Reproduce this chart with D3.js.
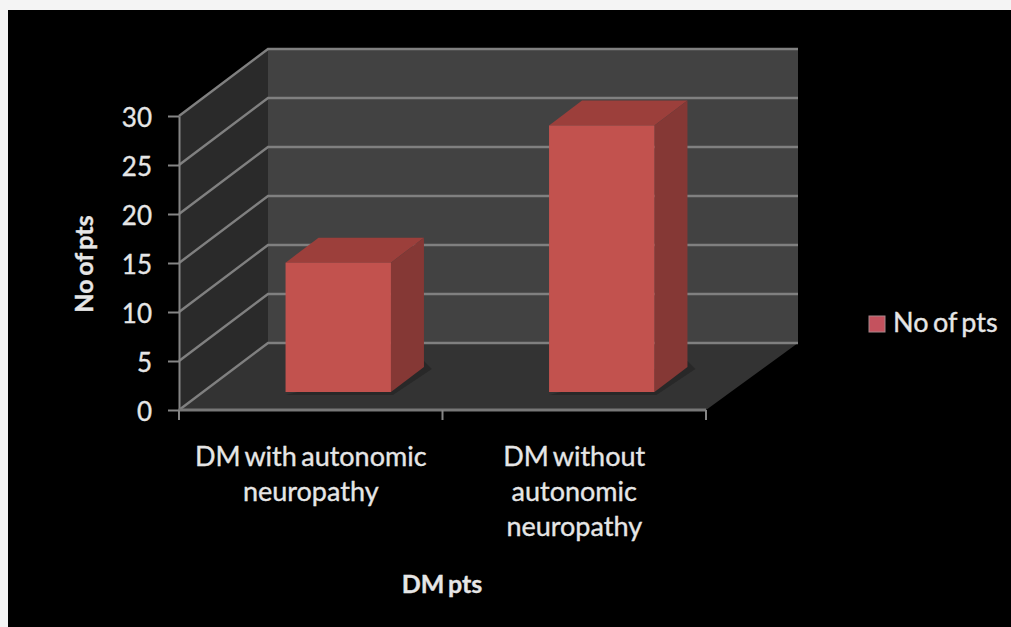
<!DOCTYPE html>
<html>
<head>
<meta charset="utf-8">
<script src="https://cdn.jsdelivr.net/npm/d3@7/dist/d3.min.js"></script>
<style>
  html, body { margin: 0; padding: 0; background: #000; overflow: hidden; }
  svg { display: block; }
  text { font-family: Lato, "Open Sans", sans-serif; fill: #e6e6e6; }
  .soft { stroke: #e6e6e6; stroke-width: 0.35px; word-spacing: -2.5px; }
</style>
</head>
<body>
<script>
// Patient counts by group
const categories = ["DM with autonomic neuropathy", "DM without autonomic neuropathy"];
const categoryLines = [["DM with autonomic", "neuropathy"], ["DM without", "autonomic", "neuropathy"]];
const values = [13.2, 27.2];
const yTicks = [0, 5, 10, 15, 20, 25, 30];
const seriesName = "No of pts";
const xTitle = "DM pts";
const yTitle = "No of pts";

const W = 1011, H = 627;
const depthX = 89, depthY = 67;       // wall depth in the oblique projection
const barDepthX = 33, barDepthY = 25; // depth of each box
const barInsetX = 27.5, barInsetY = 18; // how far the boxes sit behind the front edge

const x = d3.scaleBand().domain(categories).range([179, 706]).paddingInner(0.6).paddingOuter(0.3);
const axisX = d3.scaleBand().domain(categories).range([179, 706]);
const y = d3.scaleLinear().domain([0, 30]).range([410, 116]);

const svg = d3.select("body").append("svg").attr("width", W).attr("height", H);

// Page: black panel with a pale strip along the top and left edges
svg.append("rect").attr("width", W).attr("height", H).attr("fill", "#f4f4f4");
svg.append("rect").attr("x", 8).attr("y", 10).attr("width", W - 8).attr("height", H - 10).attr("fill", "#000");

const poly = pts => pts.map(p => p.join(",")).join(" ");
const [x0, x1] = axisX.range();
const y0 = y(0), yTop = y(30);

// Walls and floor
svg.append("polygon").attr("fill", "#2a2a2a")
  .attr("points", poly([[x0, y0], [x0 + depthX, y0 - depthY], [x0 + depthX, yTop - depthY], [x0, yTop]]));
svg.append("polygon").attr("fill", "#424242")
  .attr("points", poly([[x0 + depthX, y0 - depthY], [x1 + depthX + 3, y0 - depthY], [x1 + depthX + 3, yTop - depthY], [x0 + depthX, yTop - depthY]]));
svg.append("polygon").attr("fill", "#333333")
  .attr("points", poly([[x0, y0], [x0 + depthX, y0 - depthY], [x1 + depthX + 3, y0 - depthY], [x1, y0]]));

// Gridlines wrapping the side and back walls
const grid = svg.append("g").attr("fill", "none").attr("stroke", "#808080").attr("stroke-width", 2.4);
grid.selectAll("polyline").data(yTicks).join("polyline")
  .attr("points", d => poly([[x0, y(d)], [x0 + depthX, y(d) - depthY], [x1 + depthX + 3, y(d) - depthY]]));

// Axes
const yAxis = d3.axisLeft(y).tickValues(yTicks).tickSize(11).tickPadding(16).tickSizeOuter(0);
const gy = svg.append("g").attr("transform", `translate(${x0},0)`).call(yAxis);
const xAxis = d3.axisBottom(axisX).tickSize(0).tickFormat("");
const gx = svg.append("g").attr("transform", `translate(0,${y0})`).call(xAxis);
gx.select(".domain").attr("d", `M${x0},0H${x1}`);
gx.selectAll(".tick").remove();
gx.selectAll("line.cat").data([x0, x0 + axisX.step(), x1]).join("line").attr("class", "cat")
  .attr("x1", d => d).attr("x2", d => d).attr("y1", 0).attr("y2", 10);
[gy, gx].forEach(g => {
  g.selectAll("line").attr("stroke", "#858585").attr("stroke-width", 2);
  g.select(".domain").attr("stroke", "#858585").attr("stroke-width", 2);
});
gx.select(".domain").attr("stroke-width", 3).attr("stroke", "#777");
gy.selectAll("text").attr("class", "soft").attr("font-size", 26).attr("dy", "0.4em")
  .style("fill", "#e6e6e6").attr("font-family", "Lato");

// Boxes: shadow, top, side, front
const bars = svg.append("g").selectAll("g").data(categories).join("g");
const left = d => x(d) + barInsetX;
const right = d => left(d) + x.bandwidth();
const base = y(0) - barInsetY;
const topOf = (d, i) => y(values[i]) - barInsetY;

bars.append("polygon").attr("fill", "#222").attr("opacity", 0.6)
  .attr("points", d => poly([[left(d), base + 3], [right(d) + 2, base + 3], [right(d) + barDepthX + 8, base - barDepthY + 2], [right(d) + barDepthX, base - barDepthY - 6]]));
bars.append("polygon").attr("fill", "#9c3f3b")
  .attr("points", (d, i) => poly([[left(d), topOf(d, i)], [right(d), topOf(d, i)], [right(d) + barDepthX, topOf(d, i) - barDepthY], [left(d) + barDepthX, topOf(d, i) - barDepthY]]));
bars.append("polygon").attr("fill", "#853835")
  .attr("points", (d, i) => poly([[right(d), topOf(d, i)], [right(d) + barDepthX, topOf(d, i) - barDepthY], [right(d) + barDepthX, base - barDepthY], [right(d), base]]));
bars.append("rect").attr("fill", "#c2524e")
  .attr("x", d => left(d)).attr("width", x.bandwidth())
  .attr("y", (d, i) => topOf(d, i)).attr("height", (d, i) => base - topOf(d, i));

// Category labels, one text line per row
const labels = svg.append("g").attr("text-anchor", "middle").attr("font-size", 27);
labels.selectAll("g").data(categories).join("g").each(function (d, i) {
  d3.select(this).selectAll("text").data(categoryLines[i]).join("text")
    .attr("class", "soft")
    .attr("x", axisX(d) + axisX.bandwidth() / 2)
    .attr("y", (_, j) => 466 + j * 35)
    .text(t => t);
});

// Axis titles
svg.append("text").attr("class", "soft").attr("x", 442).attr("y", 593).attr("text-anchor", "middle")
  .attr("font-size", 25).attr("font-weight", 700).text(xTitle);
svg.append("text").attr("class", "soft").attr("transform", "translate(93,264) rotate(-90)").attr("text-anchor", "middle")
  .attr("font-size", 25).attr("font-weight", 700).text(yTitle);

// Legend
svg.append("rect").attr("x", 869).attr("y", 316).attr("width", 16).attr("height", 16)
  .attr("fill", "#c4525e").attr("stroke", "#a8878c").attr("stroke-width", 1);
svg.append("text").attr("class", "soft").attr("x", 893).attr("y", 332).attr("font-size", 27).text(seriesName);
</script>
</body>
</html>
